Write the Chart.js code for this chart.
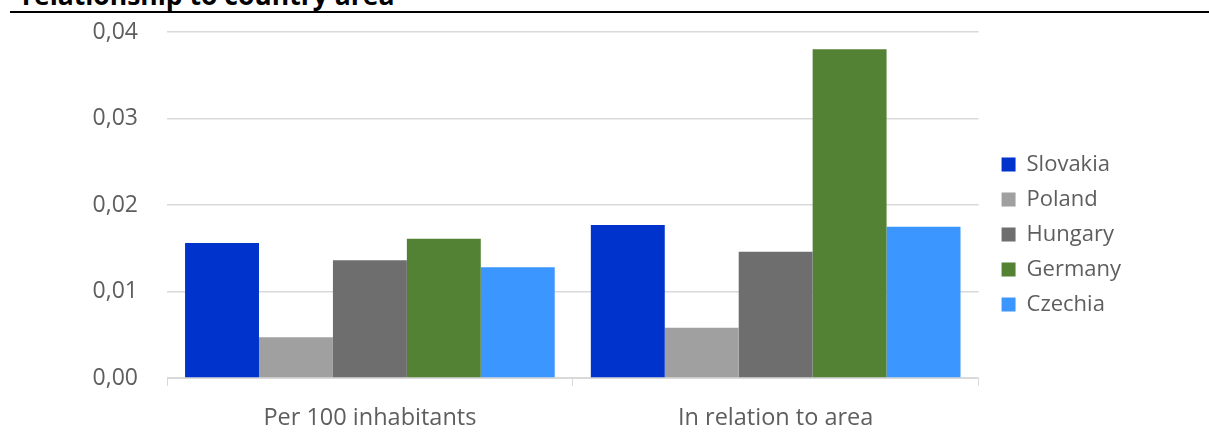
<!DOCTYPE html>
<html>
<head>
<meta charset="utf-8">
<script src="https://cdn.jsdelivr.net/npm/chart.js@4.4.1/dist/chart.umd.min.js"></script>
<style>
  html, body { margin: 0; padding: 0; background: #fff; }
  #wrap { position: relative; width: 1209px; height: 441px; overflow: hidden; }
  #title {
    position: absolute; left: 22px; top: -23px;
    font: bold 26.5px "Open Sans", sans-serif; color: #000; white-space: nowrap;
  }
  #rule { position: absolute; left: 10px; right: 0; top: 11px; height: 2px; background: #000; }
  #chartBox { position: absolute; left: 0; top: 0; width: 1209px; height: 441px; }
</style>
</head>
<body>
<div id="wrap">
  <div id="title">relationship to country area</div>
  <div id="rule"></div>
  <div id="chartBox"><canvas id="myChart"></canvas></div>
</div>
<script>
const categories = ['Per 100 inhabitants', 'In relation to area'];
const slovakia = [0.0156, 0.0177];
const poland   = [0.0047, 0.0058];
const hungary  = [0.0136, 0.0146];
const germany  = [0.0161, 0.0380];
const czechia  = [0.0128, 0.0175];
const yTicks = [0, 0.01, 0.02, 0.03, 0.04];

const ctx = document.getElementById('myChart').getContext('2d');
const textColor = '#5e5e5e';
const gridColor = '#d9d9d9';

function series(label, data, color) {
    return { label: label, data: data, backgroundColor: color, borderWidth: 0 };
}

// nudge the legend a little to sit where the original one is
const legendNudge = {
    id: 'legendNudge',
    afterLayout(chart) {
        const lg = chart.legend;
        lg.left += 10; lg.right += 10;
        lg.top -= 2; lg.bottom -= 2;
    }
};

new Chart(ctx, {
    type: 'bar',
    data: {
        labels: categories,
        datasets: [
            series('Slovakia', slovakia, '#0033cc'),
            series('Poland', poland, '#a0a0a0'),
            series('Hungary', hungary, '#6e6e6e'),
            series('Germany', germany, '#548235'),
            series('Czechia', czechia, '#3c96ff')
        ]
    },
    options: {
        responsive: true,
        maintainAspectRatio: false,
        animation: false,
        datasets: { bar: { barPercentage: 1, categoryPercentage: 0.911 } },
        layout: { padding: { top: 32, right: 88, bottom: 0, left: 0 } },
        plugins: {
            tooltip: { enabled: false },
            legend: {
                position: 'right',
                labels: {
                    boxWidth: 14, boxHeight: 14, padding: 13,
                    color: textColor,
                    font: { family: 'Open Sans', size: 22 }
                }
            }
        },
        scales: {
            x: {
                afterFit: (scale) => { scale.height = 63; },
                border: { color: gridColor },
                grid: { drawOnChartArea: false, drawTicks: true, tickLength: 8, offset: true, color: gridColor },
                ticks: { color: textColor, font: { family: 'Open Sans', size: 23.5 }, padding: 18 }
            },
            y: {
                min: 0, max: 0.04,
                afterFit: (scale) => { scale.width = 167; },
                afterBuildTicks: (scale) => { scale.ticks = yTicks.map(v => ({ value: v })); },
                border: { display: false },
                grid: { color: gridColor, drawTicks: true, tickLength: 24, tickColor: 'rgba(0,0,0,0)', lineWidth: 1.5 },
                ticks: {
                    color: textColor, padding: 5,
                    font: { family: 'Open Sans', size: 23 },
                    callback: (v) => v.toFixed(2).replace('.', ',')
                }
            }
        }
    },
    plugins: [legendNudge]
});
</script>
</body>
</html>
